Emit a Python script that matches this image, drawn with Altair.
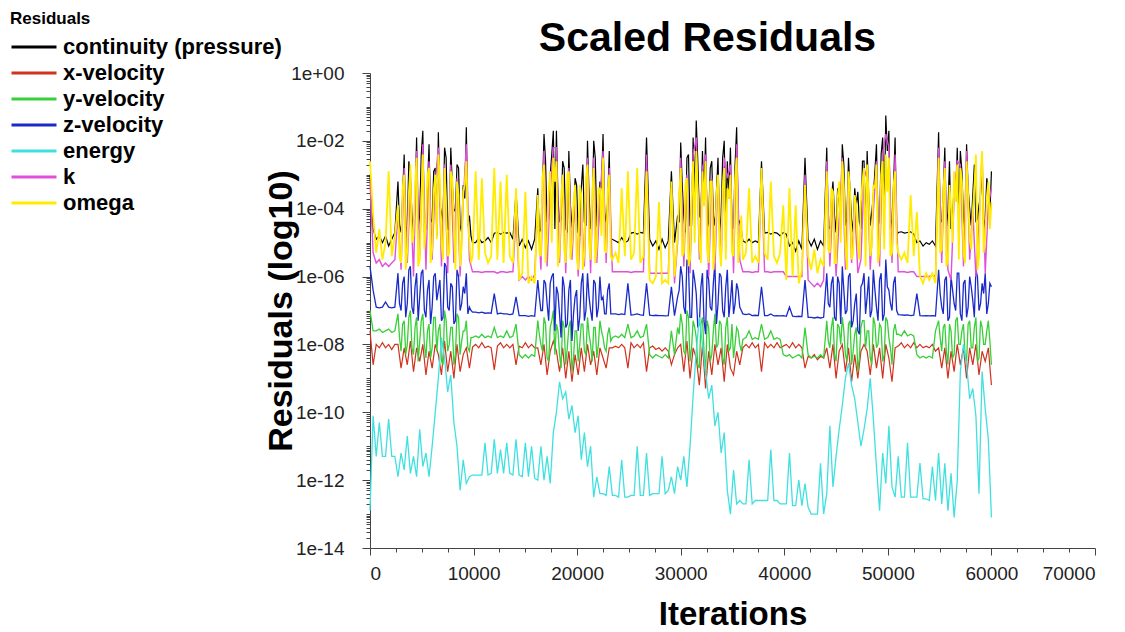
import altair as alt
import pandas as pd

# ---------------- data (log10 of the scaled residuals) ----------------
STEP = 300
ITERATIONS = list(range(0, 60001, STEP))
# index ranges of the busy (unsteady) stretches, where half-step readings were also taken
ACTIVE = [(9, 32), (54, 77), (99, 119), (147, 169), (183, 199)]

SERIES = ["continuity (pressure)", "x-velocity", "y-velocity", "z-velocity", "energy", "k", "omega"]
COLORS = ["#000000", "#d0321e", "#38cf38", "#1a2ac8", "#40e0e0", "#e050d8", "#ffec00"]
WIDTHS = [1.2, 1.2, 1.3, 1.3, 1.3, 1.4, 1.8]

CONTINUITY = [
    -3.0, -4.6, -4.9, -4.8, -5.0, -4.8, -5.1, -4.9, -4.7, -3.2, -4.7, -2.4, -4.5, -3.0, -4.8, -1.9, -4.2, -1.7, -4.6, -2.1,
    -4.4, -2.8, -1.75, -4.1, -2.2, -4.6, -2.2, -4.0, -2.7, -4.5, -3.3, -1.6, -4.2, -5.0, -5.0, -4.85, -5.0, -4.95, -4.85, -5.0,
    -4.72, -4.7, -4.75, -4.7, -4.72, -4.7, -4.9, -3.5, -5.1, -4.9, -5.15, -4.95, -5.2, -4.9, -3.4, -4.6, -1.8, -4.4, -3.0, -1.7,
    -1.7, -4.4, -2.6, -4.6, -2.3, -4.5, -3.1, -4.7, -3.4, -4.4, -2.0, -4.6, -2.0, -4.5, -3.2, -1.8, -4.4, -2.3, -4.9, -4.95,
    -5.0, -4.85, -5.0, -4.95, -4.72, -4.7, -4.75, -4.7, -4.72, -1.9, -4.9, -5.1, -4.95, -5.2, -4.9, -5.15, -4.95, -2.9, -5.0, -4.2,
    -2.05, -4.3, -2.5, -4.5, -1.9, -1.4, -4.2, -2.3, -1.9, -4.4, -2.6, -4.5, -2.5, -4.2, -2.0, -2.6, -2.2, -4.6, -1.6, -4.4,
    -4.95, -5.0, -4.9, -5.0, -4.95, -5.0, -2.6, -4.72, -4.7, -4.75, -4.7, -4.72, -4.8, -4.7, -4.75, -5.1, -5.0, -5.25, -4.95, -5.2,
    -2.5, -4.9, -5.1, -4.9, -5.2, -4.95, -5.1, -2.2, -4.6, -3.2, -4.7, -3.8, -2.1, -4.5, -2.5, -4.3, -3.4, -3.5, -4.6, -2.6,
    -2.3, -4.5, -3.6, -2.1, -4.4, -1.9, -1.25, -1.7, -4.3, -1.9, -4.7, -4.68, -4.72, -4.7, -4.68, -4.75, -5.0, -4.95, -5.1, -5.0,
    -5.05, -4.95, -5.1, -1.75, -4.4, -2.2, -4.1, -4.6, -3.2, -2.2, -2.3, -4.3, -2.1, -4.0, -3.6, -4.4, -3.9, -2.9, -4.3, -3.4,
    -2.9,
]
CONTINUITY_MID = [
    -4.5, -3.6, -4.8, -2.6, -4.2, -3.8, -4.6, -2.4, -4.7, -3.4, -4.3, -2.9, -4.8, -3.9, -4.4, -2.5, -4.6, -3.3, -4.1, -2.8,
    -4.7, -3.7, -4.5, -4.8,
    -4.7, -3.5, -2.6, -4.2, -2.4, -4.6, -3.7, -4.3, -2.8, -4.7, -3.9, -4.4, -3.3, -4.8, -2.7, -4.5, -3.6, -4.2, -2.5, -4.6,
    -3.4, -4.1, -3.8, -4.9,
    -4.4, -3.3, -4.7, -2.4, -4.5, -3.6, -2.6, -4.3, -3.9, -4.6, -2.8, -4.2, -3.5, -4.7, -2.5, -4.4, -3.7, -4.5, -2.7, -4.3,
    -4.6,
    -4.5, -3.7, -4.2, -3.4, -4.6, -2.7, -4.3, -3.5, -4.7, -3.9, -4.4, -2.6, -4.8, -3.6, -4.1, -2.9, -4.5, -2.4, -4.2, -2.3,
    -4.6, -3.3, -4.8,
    -4.3, -3.5, -4.6, -2.6, -4.4, -3.8, -4.2, -2.9, -4.7, -3.4, -4.5, -2.7, -4.3, -3.6, -4.6, -3.1, -4.2,
]

X_VELOCITY = [
    -7.6, -8.6, -8.0, -8.1, -7.95, -8.1, -8.0, -8.15, -8.0, -8.0, -8.7, -8.1, -8.6, -7.9, -8.8, -8.1, -8.5, -8.0, -8.9, -8.2,
    -8.7, -8.0, -8.3, -8.9, -7.9, -8.8, -8.2, -9.0, -8.0, -8.8, -8.3, -8.1, -8.7, -8.08, -8.0, -8.1, -7.95, -8.1, -8.05, -8.1,
    -8.75, -8.05, -7.95, -8.1, -8.0, -8.1, -8.0, -8.6, -8.05, -8.1, -7.95, -8.1, -8.0, -8.1, -8.1, -8.6, -8.0, -8.9, -8.2, -7.9,
    -8.2, -8.8, -8.1, -9.0, -8.2, -9.1, -8.3, -8.9, -8.1, -8.8, -8.0, -8.6, -8.2, -8.9, -8.1, -8.4, -8.7, -8.1, -8.1, -8.05,
    -8.1, -8.0, -8.1, -8.7, -7.95, -8.1, -8.0, -8.1, -7.95, -8.8, -8.1, -8.05, -8.15, -8.1, -8.2, -8.1, -8.2, -8.6, -8.3, -8.1,
    -8.0, -8.8, -7.9, -9.0, -8.1, -8.4, -9.2, -8.0, -9.3, -8.2, -8.9, -8.0, -8.6, -8.1, -9.1, -8.0, -8.7, -8.9, -8.2, -8.6,
    -8.1, -8.0, -8.1, -7.95, -8.1, -8.0, -8.8, -7.95, -8.1, -8.0, -8.1, -7.95, -8.1, -8.05, -8.0, -8.1, -7.95, -8.1, -8.0, -8.1,
    -8.7, -8.35, -8.4, -8.3, -8.45, -8.35, -8.4, -8.1, -8.7, -8.0, -9.0, -8.2, -8.0, -8.8, -8.1, -9.1, -8.3, -9.0, -8.2, -8.0,
    -8.2, -8.9, -8.0, -8.7, -8.1, -9.0, -8.0, -8.4, -9.1, -8.1, -8.05, -7.95, -8.1, -8.0, -8.1, -7.95, -8.1, -8.0, -8.1, -8.05,
    -8.1, -8.0, -8.2, -8.1, -8.7, -8.1, -9.0, -8.2, -8.8, -8.0, -8.6, -8.1, -9.0, -8.1, -8.6, -8.0, -8.9, -8.2, -8.5, -8.1,
    -9.2,
]

Y_VELOCITY = [
    -7.0, -7.6, -7.6, -7.55, -7.65, -7.6, -7.55, -7.65, -7.6, -7.1, -8.2, -7.3, -8.0, -7.0, -8.3, -7.2, -7.9, -7.1, -8.4, -7.4,
    -8.1, -7.2, -7.6, -8.5, -7.0, -8.2, -7.5, -8.6, -7.1, -8.3, -7.6, -7.3, -8.2, -7.8, -7.75, -7.8, -7.7, -7.8, -7.75, -7.8,
    -7.5, -7.8, -7.75, -7.8, -7.6, -7.8, -7.75, -7.4, -8.3, -8.4, -8.3, -8.4, -8.3, -8.35, -7.3, -8.0, -7.2, -8.4, -7.5, -7.0,
    -7.4, -8.3, -7.3, -8.6, -7.5, -8.8, -7.6, -8.5, -7.4, -8.2, -7.2, -8.0, -7.5, -8.4, -7.3, -7.8, -8.2, -7.5, -7.8, -7.75,
    -7.8, -7.7, -7.8, -7.4, -7.8, -7.75, -7.6, -7.8, -7.75, -7.4, -8.3, -8.4, -8.3, -8.35, -8.4, -8.3, -8.4, -7.6, -8.3, -7.5,
    -7.1, -8.2, -7.0, -8.5, -7.3, -7.8, -8.7, -7.2, -8.9, -7.5, -8.3, -7.1, -8.0, -7.4, -8.6, -7.2, -8.1, -8.4, -7.5, -8.0,
    -7.85, -7.8, -7.6, -7.85, -7.8, -7.85, -7.4, -7.85, -7.8, -7.6, -7.85, -7.8, -7.85, -8.3, -8.35, -8.3, -8.4, -8.35, -8.3, -8.4,
    -7.5, -8.3, -8.4, -8.35, -8.4, -8.3, -8.4, -7.3, -8.1, -7.2, -8.5, -7.5, -7.2, -8.3, -7.4, -8.6, -7.7, -8.8, -7.5, -7.3,
    -7.6, -8.4, -7.2, -8.1, -7.4, -8.5, -7.2, -7.8, -8.6, -7.4, -7.7, -7.75, -7.6, -7.75, -7.7, -7.75, -8.3, -8.4, -8.35, -8.4,
    -8.35, -8.4, -7.6, -7.3, -8.2, -7.4, -8.6, -7.6, -8.3, -7.2, -8.0, -7.4, -8.5, -7.3, -8.1, -7.2, -8.4, -7.5, -8.0, -7.3,
    -8.6,
]
Y_VELOCITY_MID = [
    -7.8, -7.4, -8.3, -7.2, -8.1, -7.5, -8.5, -7.3, -8.0, -7.6, -8.4, -7.2, -8.2, -7.4, -8.6, -7.3, -8.0, -7.5, -8.3, -7.2,
    -7.9, -7.6, -8.1, -7.8,
    -7.7, -8.2, -7.4, -8.5, -7.3, -8.3, -7.6, -8.7, -7.5, -8.1, -7.3, -8.4, -7.6, -8.0, -7.4, -8.3, -7.7, -8.5, -7.5, -8.0,
    -7.6, -8.1, -7.7, -7.9,
    -7.7, -7.4, -8.3, -7.2, -8.1, -7.5, -8.6, -7.4, -8.2, -7.3, -8.5, -7.6, -8.1, -7.3, -8.4, -7.5, -8.2, -7.4, -8.0, -7.6,
    -8.2,
    -7.9, -7.5, -8.3, -7.4, -8.0, -7.6, -8.5, -7.3, -8.2, -7.5, -8.4, -7.3, -8.1, -7.6, -8.6, -7.4, -8.0, -7.5, -8.3, -7.3,
    -8.1, -7.6, -7.7,
    -7.8, -7.5, -8.2, -7.4, -8.4, -7.3, -8.0, -7.6, -8.3, -7.4, -8.1, -7.5, -8.5, -7.3, -8.0, -7.6, -7.9,
]

Z_VELOCITY = [
    -5.7, -6.4, -6.9, -6.92, -6.9, -6.75, -6.9, -6.92, -6.9, -5.9, -7.0, -6.0, -6.8, -5.7, -7.1, -5.9, -6.6, -5.8, -7.2, -6.1,
    -6.9, -5.9, -6.4, -7.3, -5.6, -6.9, -6.2, -7.4, -5.8, -7.0, -6.3, -5.9, -6.9, -7.05, -7.05, -7.07, -7.05, -7.08, -7.07, -7.08,
    -6.5, -7.1, -7.08, -7.1, -7.1, -7.12, -7.1, -6.6, -7.15, -7.15, -7.15, -7.17, -7.15, -7.17, -6.1, -7.0, -6.1, -6.8, -6.2, -5.9,
    -6.3, -7.1, -6.0, -7.5, -6.4, -7.9, -6.6, -7.6, -6.2, -7.3, -5.9, -7.0, -6.1, -7.2, -6.0, -6.6, -7.1, -6.2, -7.1, -7.1,
    -7.12, -7.1, -7.12, -6.2, -7.13, -7.12, -7.1, -7.13, -7.14, -6.2, -7.14, -7.15, -7.14, -7.15, -7.15, -7.16, -7.15, -6.3, -7.15, -6.6,
    -5.7, -6.9, -5.5, -7.2, -5.8, -6.5, -7.4, -5.9, -7.7, -6.1, -7.0, -5.6, -6.8, -6.0, -7.2, -5.8, -6.7, -7.1, -6.2, -6.9,
    -7.1, -7.12, -7.1, -7.15, -7.14, -7.15, -6.3, -7.15, -7.15, -7.1, -7.16, -7.15, -7.16, -7.15, -7.17, -6.9, -7.17, -7.18, -7.17, -7.18,
    -6.1, -7.2, -7.2, -7.22, -7.2, -7.22, -7.2, -5.9, -6.9, -6.0, -7.3, -6.2, -5.7, -7.1, -6.0, -7.5, -6.8, -7.6, -6.3, -5.9,
    -6.6, -7.2, -5.8, -6.9, -6.1, -7.3, -5.5, -6.4, -7.0, -6.0, -7.12, -7.13, -7.14, -7.13, -7.15, -7.14, -6.5, -7.15, -7.16, -7.15,
    -7.16, -7.15, -7.16, -5.8, -6.9, -6.1, -7.3, -6.0, -6.8, -5.9, -7.1, -6.2, -7.2, -6.0, -6.7, -5.8, -7.0, -6.2, -5.9, -6.8,
    -6.3,
]
Z_VELOCITY_MID = [
    -6.8, -6.2, -7.2, -5.8, -6.9, -6.3, -7.3, -5.9, -7.0, -6.4, -7.4, -6.0, -6.7, -6.1, -7.2, -5.7, -7.0, -6.3, -7.3, -6.0,
    -6.8, -6.5, -7.1, -7.0,
    -6.6, -7.0, -6.2, -7.3, -6.0, -7.6, -6.5, -7.8, -6.3, -7.4, -6.1, -7.1, -6.4, -7.2, -5.9, -7.0, -6.6, -7.3, -6.2, -6.9,
    -6.7, -7.1, -6.4, -7.1,
    -6.4, -6.0, -7.1, -5.7, -7.2, -6.1, -7.5, -6.3, -7.3, -5.8, -6.9, -6.2, -7.4, -5.9, -7.0, -6.3, -7.2, -6.1, -6.8, -6.4,
    -7.0,
    -6.8, -6.2, -7.2, -6.0, -7.4, -6.4, -7.0, -5.9, -7.3, -6.5, -7.7, -6.2, -7.1, -6.0, -7.0, -6.4, -7.3, -5.9, -7.1, -6.3,
    -6.8, -6.2, -7.0,
    -6.5, -7.1, -6.0, -7.2, -6.4, -7.0, -5.9, -7.3, -6.1, -6.9, -6.3, -7.2, -6.0, -6.8, -6.5, -7.1, -6.2,
]

ENERGY = [
    -12.9, -10.1, -11.3, -10.3, -11.3, -11.3, -10.2, -11.3, -11.3, -11.9, -11.2, -11.7, -10.7, -11.8, -11.3, -11.9, -10.5, -11.6, -11.2, -11.9,
    -11.0, -10.0, -9.0, -7.8, -8.4, -9.4, -8.9, -10.3, -11.0, -12.3, -11.4, -12.1, -11.9, -11.85, -11.85, -11.85, -11.85, -10.9, -11.85, -11.8,
    -10.8, -11.8, -11.1, -11.8, -10.9, -11.8, -11.85, -10.8, -11.85, -11.9, -10.9, -11.9, -11.0, -11.95, -12.0, -11.0, -12.0, -11.3, -12.1, -10.6,
    -10.0, -9.1, -9.6, -9.4, -10.2, -9.8, -10.6, -10.1, -11.4, -10.6, -11.6, -11.0, -12.5, -11.9, -12.4, -12.4, -12.45, -11.6, -12.45, -12.45,
    -12.5, -11.4, -12.5, -12.5, -12.45, -12.45, -11.0, -12.45, -12.45, -11.2, -12.45, -12.4, -12.4, -12.4, -11.3, -12.4, -12.3, -11.9, -12.4, -11.6,
    -12.0, -11.3, -12.2, -11.0, -9.5, -8.2, -7.2, -8.0, -8.8, -9.6, -9.2, -10.4, -10.0, -11.2, -10.6, -12.3, -13.0, -11.7, -12.7, -12.6,
    -12.7, -12.7, -11.4, -12.7, -12.6, -12.6, -12.6, -12.6, -12.6, -11.1, -12.6, -12.6, -12.7, -12.7, -12.7, -11.2, -12.75, -12.75, -12.0, -12.75,
    -12.1, -12.8, -13.0, -13.0, -13.0, -11.5, -13.0, -12.4, -10.4, -12.2, -11.3, -10.5, -9.8, -9.0, -8.55, -9.2, -9.6, -10.3, -11.0, -10.5,
    -9.9, -9.0, -10.2, -11.6, -12.9, -11.2, -12.1, -10.4, -12.2, -12.5, -11.3, -12.5, -12.5, -10.9, -12.5, -12.5, -12.5, -11.5, -12.55, -12.55,
    -12.6, -11.6, -12.6, -11.2, -12.7, -11.5, -12.9, -11.8, -13.1, -12.0, -8.8, -8.0, -8.6, -9.6, -9.3, -10.1, -12.4, -8.8, -9.9, -10.8,
    -13.1,
]

K = [
    -3.2, -5.3, -5.6, -5.5, -5.7, -5.6, -5.7, -5.6, -5.5, -4.2, -5.8, -2.8, -5.6, -3.4, -6.0, -2.3, -5.4, -2.1, -5.8, -2.6,
    -5.5, -3.2, -2.2, -5.7, -2.7, -5.9, -2.7, -5.6, -3.1, -6.0, -3.8, -2.1, -5.5, -5.86, -5.86, -5.86, -5.88, -5.86, -5.86, -5.86,
    -5.86, -5.9, -5.86, -5.86, -5.88, -5.86, -5.86, -4.2, -6.1, -6.0, -6.1, -6.0, -6.1, -5.95, -4.0, -5.8, -2.3, -5.7, -3.5, -2.2,
    -2.2, -5.6, -3.0, -5.9, -2.8, -5.5, -3.6, -6.0, -3.9, -5.7, -2.5, -5.9, -2.5, -5.6, -3.7, -2.3, -5.6, -2.8, -5.86, -5.86,
    -5.86, -5.86, -5.86, -5.86, -5.88, -5.86, -5.86, -5.86, -5.86, -2.4, -5.9, -5.9, -5.9, -5.9, -5.9, -5.9, -5.9, -3.4, -6.2, -5.0,
    -2.5, -5.7, -3.0, -5.9, -2.4, -1.9, -5.5, -2.8, -2.4, -6.0, -3.1, -5.8, -3.0, -5.6, -2.5, -3.1, -2.7, -5.9, -2.1, -5.5,
    -5.86, -5.86, -5.86, -5.88, -5.86, -5.86, -3.1, -5.86, -5.86, -5.88, -5.86, -5.86, -5.86, -5.86, -6.0, -6.0, -6.0, -6.0, -6.0, -6.0,
    -3.0, -6.1, -6.2, -6.3, -6.2, -6.3, -6.1, -2.6, -5.7, -3.7, -6.0, -4.3, -2.5, -5.8, -3.0, -5.6, -3.9, -5.9, -5.5, -3.1,
    -2.8, -5.8, -4.1, -2.6, -5.7, -2.4, -1.8, -2.2, -5.6, -2.4, -5.86, -5.86, -5.86, -5.88, -5.86, -5.86, -6.0, -6.0, -6.0, -6.0,
    -6.0, -5.95, -6.0, -2.2, -5.6, -2.6, -5.8, -6.1, -3.7, -2.6, -2.7, -5.7, -2.3, -5.5, -4.0, -6.0, -4.4, -2.4, -5.9, -3.9,
    -3.4,
]

OMEGA = [
    -2.6, -4.2, -5.3, -4.6, -5.5, -5.0, -2.9, -5.4, -4.8, -3.9, -5.6, -3.0, -5.2, -2.7, -4.8, -2.5, -5.5, -2.4, -4.4, -2.8,
    -5.2, -3.0, -2.4, -5.0, -2.8, -5.4, -2.9, -4.6, -3.2, -5.7, -3.5, -2.6, -5.0, -5.4, -2.9, -5.5, -3.1, -5.3, -5.6, -5.4,
    -2.8, -5.5, -3.2, -5.6, -3.0, -5.4, -5.6, -3.4, -6.1, -5.9, -3.5, -6.2, -6.0, -6.2, -3.6, -5.4, -2.7, -4.9, -2.9, -2.5,
    -2.6, -5.2, -3.0, -5.6, -2.9, -5.0, -3.3, -5.8, -3.6, -5.3, -2.7, -5.5, -2.8, -5.1, -3.4, -2.5, -5.3, -3.0, -5.5, -5.3,
    -5.6, -3.4, -5.4, -2.9, -5.5, -5.3, -2.8, -5.6, -5.4, -2.9, -6.1, -6.2, -6.0, -3.8, -6.2, -6.1, -6.2, -3.2, -6.0, -4.8,
    -2.8, -5.3, -3.1, -5.5, -2.6, -2.3, -5.0, -2.9, -2.6, -5.6, -3.2, -5.2, -3.0, -5.7, -2.8, -3.4, -3.0, -5.4, -2.5, -5.0,
    -5.5, -5.3, -3.4, -5.6, -5.4, -5.6, -2.8, -5.3, -5.5, -3.2, -5.4, -5.6, -5.3, -3.9, -6.1, -3.4, -6.0, -3.9, -6.2, -5.8,
    -3.3, -5.4, -5.8, -5.2, -5.9, -5.5, -5.7, -2.9, -5.3, -3.5, -5.6, -3.2, -2.6, -5.1, -2.9, -5.5, -3.6, -5.0, -3.8, -2.8,
    -2.7, -5.4, -3.3, -2.7, -5.2, -2.6, -2.4, -2.5, -5.3, -2.9, -5.3, -5.5, -5.3, -5.6, -3.6, -5.4, -4.1, -6.0, -6.2, -5.9,
    -6.1, -5.9, -6.2, -2.5, -5.2, -2.8, -5.5, -4.0, -2.9, -2.7, -2.8, -5.3, -2.6, -4.9, -4.1, -2.4, -5.4, -2.3, -4.8, -3.2,
    -3.8,
]
OMEGA_MID = [
    -5.4, -3.4, -5.8, -3.6, -5.0, -3.3, -5.7, -3.8, -5.2, -3.0, -5.6, -3.5, -4.9, -3.2, -5.5, -3.9, -5.3, -3.1, -5.8, -3.6,
    -5.1, -3.3, -4.4, -5.6,
    -5.3, -3.1, -5.6, -3.5, -5.0, -3.2, -5.7, -3.7, -5.2, -3.0, -5.5, -3.9, -5.4, -3.3, -5.8, -3.1, -5.0, -3.6, -5.6, -3.4,
    -4.8, -5.2, -3.5, -5.4,
    -3.6, -5.4, -3.3, -5.7, -3.8, -5.0, -3.5, -5.6, -3.9, -5.2, -3.2, -5.8, -3.6, -5.1, -3.4, -5.5, -3.7, -5.3, -3.1, -5.6,
    -4.2,
    -5.2, -3.4, -5.6, -3.7, -5.0, -3.3, -5.8, -3.5, -5.3, -3.9, -5.5, -3.2, -5.7, -3.6, -5.1, -3.4, -5.6, -3.0, -5.2, -3.5,
    -5.4, -3.3, -5.0,
    -5.3, -3.5, -5.7, -3.3, -5.0, -3.8, -5.5, -3.2, -5.6, -3.6, -5.2, -3.4, -5.8, -3.1, -5.3, -3.7, -4.6,
]

ALL_SERIES = [CONTINUITY, X_VELOCITY, Y_VELOCITY, Z_VELOCITY, ENERGY, K, OMEGA]
ALL_MID = [CONTINUITY_MID, None, Y_VELOCITY_MID, Z_VELOCITY_MID, None, None, OMEGA_MID]

# axis ticks
Y_MAJOR = [1e0, 1e-2, 1e-4, 1e-6, 1e-8, 1e-10, 1e-12, 1e-14]
Y_MINOR_DECADES = [-1, -2, -3, -4, -5, -6, -7, -8, -9, -10, -11, -12, -13, -14]
Y_MINOR_MULTIPLES = [2, 3, 4, 5, 6, 7, 8, 9]
Y_MINOR = [1e-1, 1e-3, 1e-5, 1e-7, 1e-9, 1e-11, 1e-13] + [
    m * 10.0 ** d for d in Y_MINOR_DECADES for m in Y_MINOR_MULTIPLES]
X_MAJOR = [0, 10000, 20000, 30000, 40000, 50000, 60000, 70000]
X_MINOR = [2500, 5000, 7500, 12500, 15000, 17500, 22500, 25000, 27500, 32500, 35000, 37500,
           42500, 45000, 47500, 52500, 55000, 57500, 62500, 65000, 67500]

MID_ITERATIONS = [STEP * i + STEP // 2 for a, b in ACTIVE for i in range(a, b + 1)]


def series_frame(name, exps, mid):
    its = list(ITERATIONS)
    vals = list(exps)
    if mid is not None:
        its += MID_ITERATIONS
        vals += list(mid)
    df = pd.DataFrame({"iteration": its, "residual": [10.0 ** e for e in vals], "series": name})
    return df.sort_values("iteration").reset_index(drop=True)


# ---------------- chart ----------------
FONT = "Liberation Sans"
AXC = "#444444"

xscale = alt.Scale(domain=[0, 70000], nice=False)
yscale = alt.Scale(type="log", domain=[1e-14, 1], nice=False)
cscale = alt.Scale(domain=SERIES, range=COLORS)

legend = alt.Legend(
    title="Residuals", orient="none", legendX=-360, legendY=-62,
    symbolType="M-1,0H2.333", symbolSize=729, symbolStrokeWidth=3,
    labelFont=FONT, labelFontSize=22, labelFontWeight="bold", labelColor="black", labelLimit=400,
    titleFont=FONT, titleFontSize=17, titleFontWeight="bold", titleColor="black",
    labelOffset=23, rowPadding=0, titlePadding=4,
)

x_major = alt.Axis(values=X_MAJOR, format="d", orient="bottom", tickSize=7, tickColor=AXC,
                   domainColor=AXC, labelFont=FONT, labelFontSize=19, labelColor="#222222",
                   labelPadding=9, grid=False, title="Iterations", titleFont=FONT, titleFontSize=33,
                   titleFontWeight="bold", titleColor="black", titlePadding=15)
y_major = alt.Axis(values=Y_MAJOR, orient="left", tickSize=8, tickColor=AXC, domainColor=AXC,
                   labelFont=FONT, labelFontSize=19, labelColor="#222222", labelPadding=18,
                   grid=False, title="Residuals (log10)", titleFont=FONT, titleFontSize=34,
                   titleFontWeight="bold", titleColor="black", titlePadding=-8,
                   labelExpr="'1e' + (round(log(datum.value)/LN10) >= 0 ? '+' : '-') + "
                             "(abs(round(log(datum.value)/LN10)) < 10 ? '0' : '') + abs(round(log(datum.value)/LN10))")
x_minor = alt.Axis(values=X_MINOR, orient="bottom", tickSize=4, tickColor=AXC, labels=False,
                   domain=False, grid=False, title=None)
y_minor = alt.Axis(values=Y_MINOR, orient="left", tickSize=4, tickColor=AXC, labels=False,
                   domain=False, grid=False, title=None)

layers = []
for idx, (name, exps, mid) in enumerate(zip(SERIES, ALL_SERIES, ALL_MID)):
    df = series_frame(name, exps, mid)
    if idx == 0:
        xa, ya = x_major, y_major
    elif idx == 1:
        xa, ya = x_minor, y_minor
    else:
        xa, ya = None, None
    layers.append(
        alt.Chart(df).mark_line(strokeWidth=WIDTHS[idx]).encode(
            x=alt.X("iteration:Q", scale=xscale, axis=xa),
            y=alt.Y("residual:Q", scale=yscale, axis=ya),
            color=alt.Color("series:N", scale=cscale, legend=legend),
            order=alt.Order("iteration:Q"),
        )
    )

chart = (
    alt.layer(*layers)
    .resolve_axis(x="independent", y="independent")
    .properties(
        width=725, height=475,
        title=alt.TitleParams("Scaled Residuals", font=FONT, fontSize=41, fontWeight="bold",
                              color="black", anchor="middle", frame="group", dx=-25, offset=-49),
        autosize=alt.AutoSizeParams(type="none"),
        padding={"left": 370, "top": 73, "right": 30, "bottom": 84},
        background="white",
    )
    .configure_view(strokeWidth=0)
)

chart.save("out.html", embed_options={"renderer": "svg", "actions": False})
